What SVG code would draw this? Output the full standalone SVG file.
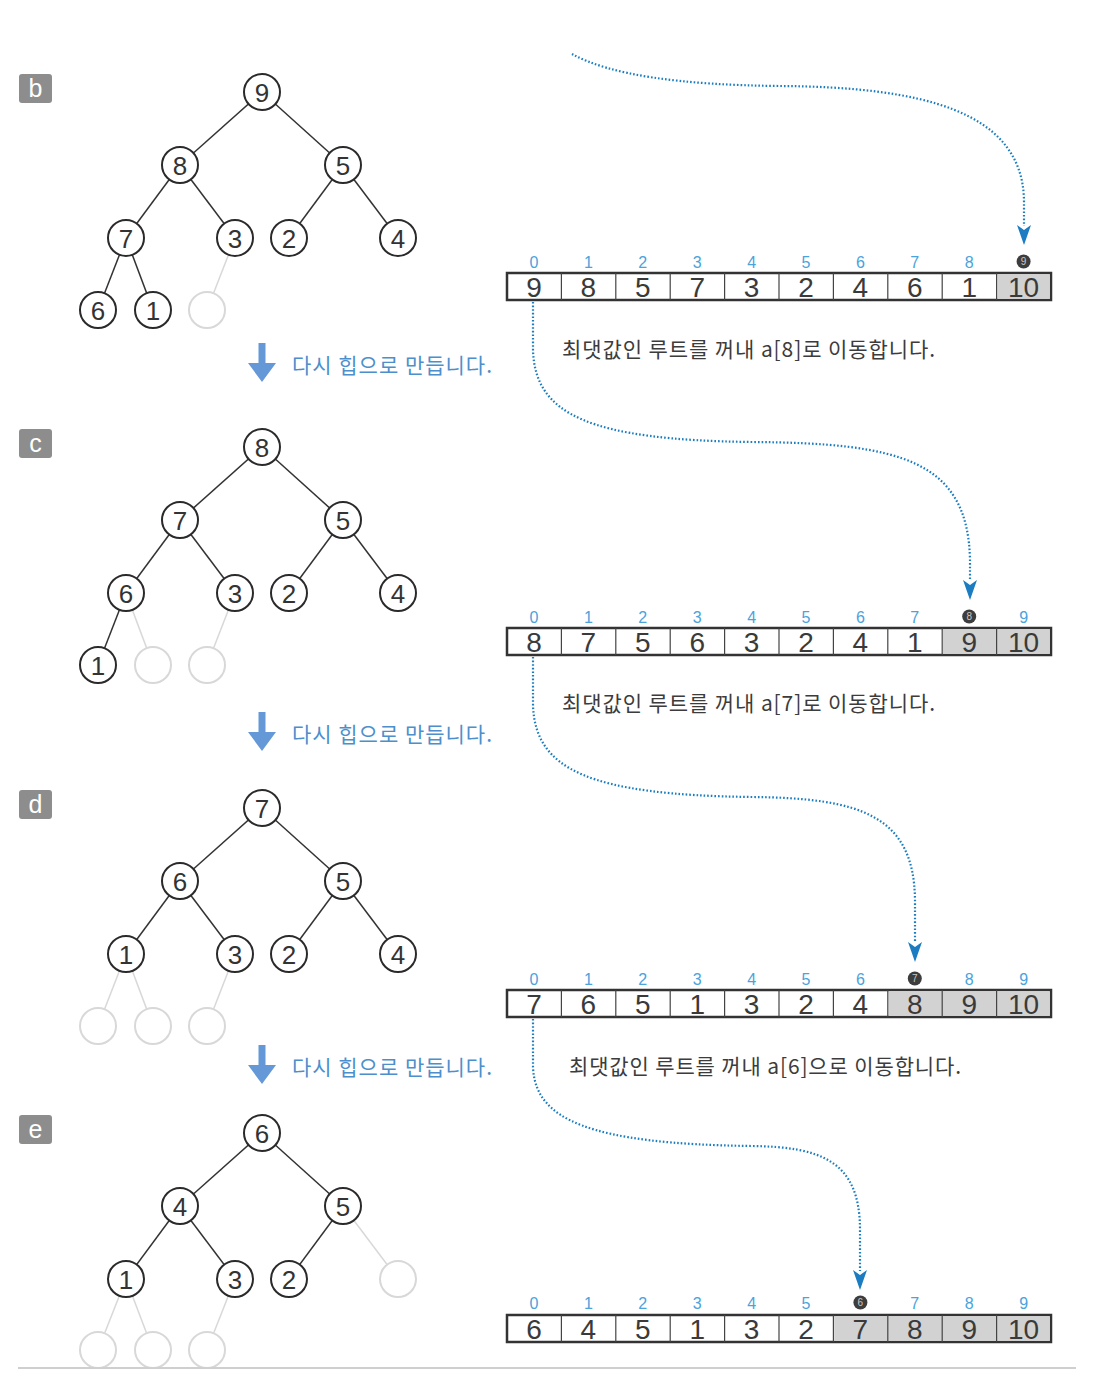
<svg xmlns="http://www.w3.org/2000/svg" width="1102" height="1390" viewBox="0 0 1102 1390">
<style>
.n{fill:#fff;stroke:#2a2a2a;stroke-width:2}
.g{fill:#fff;stroke:#d8d8d8;stroke-width:2}
.e{stroke:#333;stroke-width:1.5}
.ge{stroke:#d8d8d8;stroke-width:1.5}
.nt{font-family:"Liberation Sans",Arial,sans-serif;font-size:26px;fill:#333;text-anchor:middle}
.lb{fill:#8d8d8d}
.lt{font-family:"Liberation Sans",Arial,sans-serif;font-size:25px;fill:#fff;text-anchor:middle}
.idx{font-family:"Liberation Sans",Arial,sans-serif;font-size:16px;fill:#4aa3dc;text-anchor:middle}
.val{font-family:"Liberation Sans",Arial,sans-serif;font-size:28px;fill:#3a3a3a;text-anchor:middle}
.box{fill:#fff;stroke:#333;stroke-width:2.5}
.gc{fill:#d2d2d2}
.div{stroke:#444;stroke-width:1.2}
.mk{fill:#3d3d3d}
.mt{font-family:"Liberation Sans",Arial,sans-serif;font-size:10px;fill:#c8c8c8;text-anchor:middle}
.dot{fill:none;stroke:#1a7dc0;stroke-width:2.2;stroke-dasharray:1.6 2}
.hd{fill:#1b7cc2}
.ba{fill:#6598d6}
.bt{font-family:"Noto Sans CJK KR","Liberation Sans",sans-serif;font-size:21px;fill:#4d8fcc}
.gt{font-family:"Noto Sans CJK KR","Liberation Sans",sans-serif;font-size:21px;fill:#3c3c3c}
</style>
<defs>
<path id="head" d="M-7,0 L0,5 L7,0 L0,20 Z"/>
<path id="barrow" d="M-3.5,0 H3.5 V20 H14 L0,39 L-14,20 H-3.5 Z"/>
</defs>

<!-- ===== b ===== -->
<g id="label-b"><rect class="lb" x="19" y="74" width="33" height="29" rx="3"/><text class="lt" x="35.5" y="97">b</text></g>
<g id="tree-b" transform="translate(0,92)">
<g id="tree-b-edges">
<line class="e" x1="262" y1="0" x2="180" y2="73"/><line class="e" x1="262" y1="0" x2="343" y2="73"/>
<line class="e" x1="180" y1="73" x2="126" y2="146"/><line class="e" x1="180" y1="73" x2="235" y2="146"/>
<line class="e" x1="343" y1="73" x2="289" y2="146"/><line class="e" x1="343" y1="73" x2="398" y2="146"/>
<line class="e" x1="126" y1="146" x2="98" y2="218"/><line class="e" x1="126" y1="146" x2="153" y2="218"/>
<line class="ge" x1="235" y1="146" x2="207" y2="218"/>
</g>
<g id="b-n9"><circle class="n" cx="262" cy="0" r="18"/><text class="nt" x="262" y="9.5">9</text></g>
<g id="b-n8"><circle class="n" cx="180" cy="73" r="18"/><text class="nt" x="180" y="82.5">8</text></g>
<g id="b-n5"><circle class="n" cx="343" cy="73" r="18"/><text class="nt" x="343" y="82.5">5</text></g>
<g id="b-n7"><circle class="n" cx="126" cy="146" r="18"/><text class="nt" x="126" y="155.5">7</text></g>
<g id="b-n3"><circle class="n" cx="235" cy="146" r="18"/><text class="nt" x="235" y="155.5">3</text></g>
<g id="b-n2"><circle class="n" cx="289" cy="146" r="18"/><text class="nt" x="289" y="155.5">2</text></g>
<g id="b-n4"><circle class="n" cx="398" cy="146" r="18"/><text class="nt" x="398" y="155.5">4</text></g>
<g id="b-n6"><circle class="n" cx="98" cy="218" r="18"/><text class="nt" x="98" y="227.5">6</text></g>
<g id="b-n1"><circle class="n" cx="153" cy="218" r="18"/><text class="nt" x="153" y="227.5">1</text></g>
<g id="b-g1"><circle class="g" cx="207" cy="218" r="18"/></g>
</g>
<g id="array-b">
<rect class="box" x="507" y="273" width="544" height="27"/>
<rect class="gc" x="997.4" y="274.2" width="52.4" height="24.6"/>
<g class="div"><line x1="561.4" y1="273" x2="561.4" y2="300"/><line x1="615.8" y1="273" x2="615.8" y2="300"/><line x1="670.2" y1="273" x2="670.2" y2="300"/><line x1="724.6" y1="273" x2="724.6" y2="300"/><line x1="779" y1="273" x2="779" y2="300"/><line x1="833.4" y1="273" x2="833.4" y2="300"/><line x1="887.8" y1="273" x2="887.8" y2="300"/><line x1="942.2" y1="273" x2="942.2" y2="300"/><line x1="996.6" y1="273" x2="996.6" y2="300"/></g>
<text class="val" y="297"><tspan x="534">9</tspan><tspan x="588.4">8</tspan><tspan x="642.8">5</tspan><tspan x="697.2">7</tspan><tspan x="751.6">3</tspan><tspan x="806">2</tspan><tspan x="860.4">4</tspan><tspan x="914.8">6</tspan><tspan x="969.2">1</tspan><tspan x="1023.6">10</tspan></text>
<text class="idx" y="268"><tspan x="534">0</tspan><tspan x="588.4">1</tspan><tspan x="642.8">2</tspan><tspan x="697.2">3</tspan><tspan x="751.6">4</tspan><tspan x="806">5</tspan><tspan x="860.4">6</tspan><tspan x="914.8">7</tspan><tspan x="969.2">8</tspan></text>
<circle class="mk" cx="1023.6" cy="261.5" r="7"/><text class="mt" x="1023.6" y="265">9</text>
</g>
<g id="step-b-text">
<use href="#barrow" class="ba" x="262" y="343"/>
<text class="bt" x="292" y="373" textLength="200">다시 힙으로 만듭니다.</text>
<text class="gt" x="562" y="357" textLength="373">최댓값인 루트를 꺼내 a[8]로 이동합니다.</text>
</g>

<!-- ===== c ===== -->
<g id="label-c"><rect class="lb" x="19" y="429" width="33" height="29" rx="3"/><text class="lt" x="35.5" y="452">c</text></g>
<g id="tree-c" transform="translate(0,447)">
<g id="tree-c-edges">
<line class="e" x1="262" y1="0" x2="180" y2="73"/><line class="e" x1="262" y1="0" x2="343" y2="73"/>
<line class="e" x1="180" y1="73" x2="126" y2="146"/><line class="e" x1="180" y1="73" x2="235" y2="146"/>
<line class="e" x1="343" y1="73" x2="289" y2="146"/><line class="e" x1="343" y1="73" x2="398" y2="146"/>
<line class="e" x1="126" y1="146" x2="98" y2="218"/>
<line class="ge" x1="126" y1="146" x2="153" y2="218"/><line class="ge" x1="235" y1="146" x2="207" y2="218"/>
</g>
<g id="c-n8"><circle class="n" cx="262" cy="0" r="18"/><text class="nt" x="262" y="9.5">8</text></g>
<g id="c-n7"><circle class="n" cx="180" cy="73" r="18"/><text class="nt" x="180" y="82.5">7</text></g>
<g id="c-n5"><circle class="n" cx="343" cy="73" r="18"/><text class="nt" x="343" y="82.5">5</text></g>
<g id="c-n6"><circle class="n" cx="126" cy="146" r="18"/><text class="nt" x="126" y="155.5">6</text></g>
<g id="c-n3"><circle class="n" cx="235" cy="146" r="18"/><text class="nt" x="235" y="155.5">3</text></g>
<g id="c-n2"><circle class="n" cx="289" cy="146" r="18"/><text class="nt" x="289" y="155.5">2</text></g>
<g id="c-n4"><circle class="n" cx="398" cy="146" r="18"/><text class="nt" x="398" y="155.5">4</text></g>
<g id="c-n1"><circle class="n" cx="98" cy="218" r="18"/><text class="nt" x="98" y="227.5">1</text></g>
<g id="c-g1"><circle class="g" cx="153" cy="218" r="18"/></g>
<g id="c-g2"><circle class="g" cx="207" cy="218" r="18"/></g>
</g>
<g id="array-c">
<rect class="box" x="507" y="628" width="544" height="27"/>
<rect class="gc" x="943" y="629.2" width="106.8" height="24.6"/>
<g class="div"><line x1="561.4" y1="628" x2="561.4" y2="655"/><line x1="615.8" y1="628" x2="615.8" y2="655"/><line x1="670.2" y1="628" x2="670.2" y2="655"/><line x1="724.6" y1="628" x2="724.6" y2="655"/><line x1="779" y1="628" x2="779" y2="655"/><line x1="833.4" y1="628" x2="833.4" y2="655"/><line x1="887.8" y1="628" x2="887.8" y2="655"/><line x1="942.2" y1="628" x2="942.2" y2="655"/><line x1="996.6" y1="628" x2="996.6" y2="655"/></g>
<text class="val" y="652"><tspan x="534">8</tspan><tspan x="588.4">7</tspan><tspan x="642.8">5</tspan><tspan x="697.2">6</tspan><tspan x="751.6">3</tspan><tspan x="806">2</tspan><tspan x="860.4">4</tspan><tspan x="914.8">1</tspan><tspan x="969.2">9</tspan><tspan x="1023.6">10</tspan></text>
<text class="idx" y="623"><tspan x="534">0</tspan><tspan x="588.4">1</tspan><tspan x="642.8">2</tspan><tspan x="697.2">3</tspan><tspan x="751.6">4</tspan><tspan x="806">5</tspan><tspan x="860.4">6</tspan><tspan x="914.8">7</tspan><tspan x="1023.6">9</tspan></text>
<circle class="mk" cx="969.2" cy="616.5" r="7"/><text class="mt" x="969.2" y="620">8</text>
</g>
<g id="step-c-text">
<use href="#barrow" class="ba" x="262" y="712"/>
<text class="bt" x="292" y="742" textLength="200">다시 힙으로 만듭니다.</text>
<text class="gt" x="562" y="711" textLength="373">최댓값인 루트를 꺼내 a[7]로 이동합니다.</text>
</g>

<!-- ===== d ===== -->
<g id="label-d"><rect class="lb" x="19" y="790" width="33" height="29" rx="3"/><text class="lt" x="35.5" y="813">d</text></g>
<g id="tree-d" transform="translate(0,808)">
<g id="tree-d-edges">
<line class="e" x1="262" y1="0" x2="180" y2="73"/><line class="e" x1="262" y1="0" x2="343" y2="73"/>
<line class="e" x1="180" y1="73" x2="126" y2="146"/><line class="e" x1="180" y1="73" x2="235" y2="146"/>
<line class="e" x1="343" y1="73" x2="289" y2="146"/><line class="e" x1="343" y1="73" x2="398" y2="146"/>
<line class="ge" x1="126" y1="146" x2="98" y2="218"/><line class="ge" x1="126" y1="146" x2="153" y2="218"/><line class="ge" x1="235" y1="146" x2="207" y2="218"/>
</g>
<g id="d-n7"><circle class="n" cx="262" cy="0" r="18"/><text class="nt" x="262" y="9.5">7</text></g>
<g id="d-n6"><circle class="n" cx="180" cy="73" r="18"/><text class="nt" x="180" y="82.5">6</text></g>
<g id="d-n5"><circle class="n" cx="343" cy="73" r="18"/><text class="nt" x="343" y="82.5">5</text></g>
<g id="d-n1"><circle class="n" cx="126" cy="146" r="18"/><text class="nt" x="126" y="155.5">1</text></g>
<g id="d-n3"><circle class="n" cx="235" cy="146" r="18"/><text class="nt" x="235" y="155.5">3</text></g>
<g id="d-n2"><circle class="n" cx="289" cy="146" r="18"/><text class="nt" x="289" y="155.5">2</text></g>
<g id="d-n4"><circle class="n" cx="398" cy="146" r="18"/><text class="nt" x="398" y="155.5">4</text></g>
<g id="d-g1"><circle class="g" cx="98" cy="218" r="18"/></g>
<g id="d-g2"><circle class="g" cx="153" cy="218" r="18"/></g>
<g id="d-g3"><circle class="g" cx="207" cy="218" r="18"/></g>
</g>
<g id="array-d">
<rect class="box" x="507" y="990" width="544" height="27"/>
<rect class="gc" x="888.6" y="991.2" width="161.2" height="24.6"/>
<g class="div"><line x1="561.4" y1="990" x2="561.4" y2="1017"/><line x1="615.8" y1="990" x2="615.8" y2="1017"/><line x1="670.2" y1="990" x2="670.2" y2="1017"/><line x1="724.6" y1="990" x2="724.6" y2="1017"/><line x1="779" y1="990" x2="779" y2="1017"/><line x1="833.4" y1="990" x2="833.4" y2="1017"/><line x1="887.8" y1="990" x2="887.8" y2="1017"/><line x1="942.2" y1="990" x2="942.2" y2="1017"/><line x1="996.6" y1="990" x2="996.6" y2="1017"/></g>
<text class="val" y="1014"><tspan x="534">7</tspan><tspan x="588.4">6</tspan><tspan x="642.8">5</tspan><tspan x="697.2">1</tspan><tspan x="751.6">3</tspan><tspan x="806">2</tspan><tspan x="860.4">4</tspan><tspan x="914.8">8</tspan><tspan x="969.2">9</tspan><tspan x="1023.6">10</tspan></text>
<text class="idx" y="985"><tspan x="534">0</tspan><tspan x="588.4">1</tspan><tspan x="642.8">2</tspan><tspan x="697.2">3</tspan><tspan x="751.6">4</tspan><tspan x="806">5</tspan><tspan x="860.4">6</tspan><tspan x="969.2">8</tspan><tspan x="1023.6">9</tspan></text>
<circle class="mk" cx="914.8" cy="978.5" r="7"/><text class="mt" x="914.8" y="982">7</text>
</g>
<g id="step-d-text">
<use href="#barrow" class="ba" x="262" y="1045"/>
<text class="bt" x="292" y="1075" textLength="200">다시 힙으로 만듭니다.</text>
<text class="gt" x="569" y="1074" textLength="392">최댓값인 루트를 꺼내 a[6]으로 이동합니다.</text>
</g>

<!-- ===== e ===== -->
<g id="label-e"><rect class="lb" x="19" y="1115" width="33" height="29" rx="3"/><text class="lt" x="35.5" y="1138">e</text></g>
<g id="tree-e" transform="translate(0,1133)">
<g id="tree-e-edges">
<line class="e" x1="262" y1="0" x2="180" y2="73"/><line class="e" x1="262" y1="0" x2="343" y2="73"/>
<line class="e" x1="180" y1="73" x2="126" y2="146"/><line class="e" x1="180" y1="73" x2="235" y2="146"/>
<line class="e" x1="343" y1="73" x2="289" y2="146"/><line class="ge" x1="343" y1="73" x2="398" y2="146"/>
<line class="ge" x1="126" y1="146" x2="98" y2="217"/><line class="ge" x1="126" y1="146" x2="153" y2="217"/><line class="ge" x1="235" y1="146" x2="207" y2="217"/>
</g>
<g id="e-n6"><circle class="n" cx="262" cy="0" r="18"/><text class="nt" x="262" y="9.5">6</text></g>
<g id="e-n4"><circle class="n" cx="180" cy="73" r="18"/><text class="nt" x="180" y="82.5">4</text></g>
<g id="e-n5"><circle class="n" cx="343" cy="73" r="18"/><text class="nt" x="343" y="82.5">5</text></g>
<g id="e-n1"><circle class="n" cx="126" cy="146" r="18"/><text class="nt" x="126" y="155.5">1</text></g>
<g id="e-n3"><circle class="n" cx="235" cy="146" r="18"/><text class="nt" x="235" y="155.5">3</text></g>
<g id="e-n2"><circle class="n" cx="289" cy="146" r="18"/><text class="nt" x="289" y="155.5">2</text></g>
<g id="e-g0"><circle class="g" cx="398" cy="146" r="18"/></g>
<g id="e-g1"><circle class="g" cx="98" cy="217" r="18"/></g>
<g id="e-g2"><circle class="g" cx="153" cy="217" r="18"/></g>
<g id="e-g3"><circle class="g" cx="207" cy="217" r="18"/></g>
</g>
<g id="array-e">
<rect class="box" x="507" y="1315" width="544" height="27"/>
<rect class="gc" x="834.2" y="1316.2" width="215.6" height="24.6"/>
<g class="div"><line x1="561.4" y1="1315" x2="561.4" y2="1342"/><line x1="615.8" y1="1315" x2="615.8" y2="1342"/><line x1="670.2" y1="1315" x2="670.2" y2="1342"/><line x1="724.6" y1="1315" x2="724.6" y2="1342"/><line x1="779" y1="1315" x2="779" y2="1342"/><line x1="833.4" y1="1315" x2="833.4" y2="1342"/><line x1="887.8" y1="1315" x2="887.8" y2="1342"/><line x1="942.2" y1="1315" x2="942.2" y2="1342"/><line x1="996.6" y1="1315" x2="996.6" y2="1342"/></g>
<text class="val" y="1339"><tspan x="534">6</tspan><tspan x="588.4">4</tspan><tspan x="642.8">5</tspan><tspan x="697.2">1</tspan><tspan x="751.6">3</tspan><tspan x="806">2</tspan><tspan x="860.4">7</tspan><tspan x="914.8">8</tspan><tspan x="969.2">9</tspan><tspan x="1023.6">10</tspan></text>
<text class="idx" y="1309"><tspan x="534">0</tspan><tspan x="588.4">1</tspan><tspan x="642.8">2</tspan><tspan x="697.2">3</tspan><tspan x="751.6">4</tspan><tspan x="806">5</tspan><tspan x="914.8">7</tspan><tspan x="969.2">8</tspan><tspan x="1023.6">9</tspan></text>
<circle class="mk" cx="860.4" cy="1302.5" r="7"/><text class="mt" x="860.4" y="1306">6</text>
</g>

<!-- ===== connectors ===== -->
<g id="connectors">
<path class="dot" d="M572,54 C610,75 680,85 780,86 C920,87 1022,110 1024,200 L1024,226"/>
<use href="#head" class="hd" x="1024" y="225"/>
<path class="dot" d="M533,302 L533,350 C535,415 590,440 752,442 C900,443 968,460 970,560 L970,581"/>
<use href="#head" class="hd" x="970" y="580"/>
<path class="dot" d="M533,657 L533,705 C535,770 590,795 752,797 C860,798 914,815 915,900 L915,943"/>
<use href="#head" class="hd" x="915" y="942"/>
<path class="dot" d="M533,1019 L533,1067 C535,1120 590,1144 752,1146 C820,1147 860,1160 860,1230 L860,1271"/>
<use href="#head" class="hd" x="860" y="1270"/>
</g>

<line id="rule" x1="18" y1="1368" x2="1076" y2="1368" stroke="#cfcfcf" stroke-width="2"/>
</svg>
